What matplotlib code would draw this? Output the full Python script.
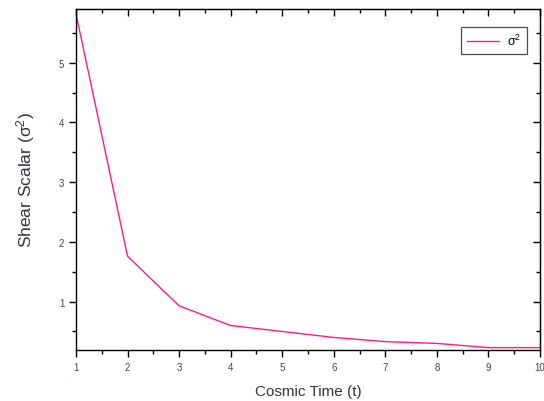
import matplotlib
matplotlib.use("Agg")
import matplotlib.pyplot as plt
from matplotlib.ticker import MultipleLocator

# values
t = [1, 2, 3, 4, 5, 6, 7, 8, 9, 10]
sigma2 = [5.82, 1.76, 0.93, 0.60, 0.50, 0.40, 0.33, 0.30, 0.23, 0.23]

plt.rcParams['font.family'] = ['Liberation Sans', 'DejaVu Sans']

fig = plt.figure(figsize=(5.44, 4.02), dpi=100)
ax = fig.add_axes([0.1397, 0.1269, 0.8529, 0.8482])

ax.plot(t, sigma2, color='#ff1a8c', lw=1.0, label=r'$\mathregular{\sigma^2}$')

ax.set_xlim(1, 10)
ax.set_ylim(0.19, 5.90)
ax.xaxis.set_major_locator(MultipleLocator(1))
ax.xaxis.set_minor_locator(MultipleLocator(0.5))
ax.yaxis.set_major_locator(MultipleLocator(1))
ax.yaxis.set_minor_locator(MultipleLocator(0.5))

ax.tick_params(which='both', direction='out', top=False, right=False,
               labelsize=7, labelcolor='#444455', width=1.0)
ax.tick_params(which='major', length=5)
ax.tick_params(which='minor', length=3)

# mirrored ticks on top and right, pointing inward, no labels
axt = ax.secondary_xaxis('top')
axt.xaxis.set_major_locator(MultipleLocator(1))
axt.xaxis.set_minor_locator(MultipleLocator(0.5))
axt.tick_params(which='both', direction='in', labeltop=False, width=1.0)
axt.tick_params(which='major', length=5)
axt.tick_params(which='minor', length=3)
axr = ax.secondary_yaxis('right')
axr.yaxis.set_major_locator(MultipleLocator(1))
axr.yaxis.set_minor_locator(MultipleLocator(0.5))
axr.tick_params(which='both', direction='in', labelright=False, width=1.0)
axr.tick_params(which='major', length=5)
axr.tick_params(which='minor', length=3)

for sp in ax.spines.values():
    sp.set_linewidth(1.0)

ax.set_xlabel('Cosmic Time (t)', fontsize=11, color='#333344', labelpad=9)
ax.set_ylabel(r'Shear Scalar ($\mathregular{\sigma^2}$)', fontsize=12.5,
              color='#333344', labelpad=16)

leg = ax.legend(loc='upper right', bbox_to_anchor=(0.985, 0.965), fontsize=9,
                handlelength=2.6, handletextpad=0.6, frameon=True,
                fancybox=False, borderpad=0.45)
leg.get_frame().set_edgecolor('#222222')
leg.get_frame().set_linewidth(0.9)

fig.savefig('out.png', dpi=100)
